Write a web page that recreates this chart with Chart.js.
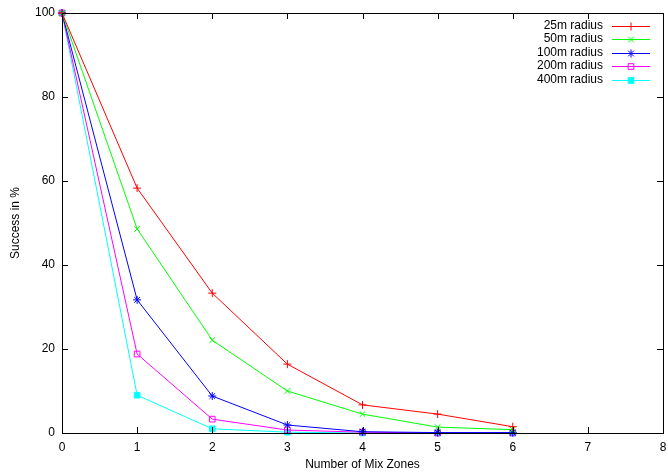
<!DOCTYPE html>
<html>
<head>
<meta charset="utf-8">
<script src="https://cdn.jsdelivr.net/npm/chart.js@4.4.1/dist/chart.umd.min.js"></script>
<style>
  html, body { margin: 0; padding: 0; background: #fff; }
  #wrap { width: 668px; height: 476px; }
</style>
</head>
<body>
<div id="wrap"><canvas id="line-chart"></canvas></div>
<script>
const zones = [0, 1, 2, 3, 4, 5, 6];
const r25 = [100, 58.3, 33.3, 16.4, 6.7, 4.5, 1.5];
const r50 = [100, 48.6, 22.1, 10.0, 4.5, 1.4, 0.8];
const r100 = [100, 31.7, 8.8, 1.9, 0.3, 0.1, 0.1];
const r200 = [100, 18.8, 3.3, 0.7, 0.2, 0.0, 0.0];
const r400 = [100, 9.0, 1.0, 0.2, 0.0, 0.0, 0.0];
const names = ["25m radius", "50m radius", "100m radius", "200m radius", "400m radius"];
const colors = ["#ff0000", "#00ff00", "#0000ff", "#ff00ff", "#00ffff"];

const FONT = "'Liberation Sans', Arial, sans-serif";

function pts(vals) {
  return vals.map((v, i) => ({ x: zones[i], y: v }));
}

function series(label, vals, color, style, fill) {
  return {
    label: label,
    data: pts(vals),
    borderColor: color,
    backgroundColor: fill ? color : "rgba(0,0,0,0)",
    borderWidth: 1,
    pointStyle: style,
    pointRadius: 4,
    pointBorderWidth: 1,
    pointBorderColor: color,
    pointBackgroundColor: fill ? color : "rgba(0,0,0,0)",
    tension: 0,
    clip: false,
  };
}

// gnuplot-like frame: border box with inward ticks on all sides
const frame = {
  id: "frame",
  afterDraw(chart) {
    const { ctx, chartArea: a, scales } = chart;
    ctx.save();
    ctx.strokeStyle = "#000";
    ctx.lineWidth = 1;
    ctx.strokeRect(a.left + 0.5, a.top + 0.5, a.right - a.left, a.bottom - a.top);
    ctx.beginPath();
    scales.x.ticks.forEach((t) => {
      const px = Math.round(scales.x.getPixelForValue(t.value)) + 0.5;
      ctx.moveTo(px, a.bottom);
      ctx.lineTo(px, a.bottom - 6);
      ctx.moveTo(px, a.top);
      ctx.lineTo(px, a.top + 6);
    });
    scales.y.ticks.forEach((t) => {
      const py = Math.round(scales.y.getPixelForValue(t.value)) + 0.5;
      ctx.moveTo(a.left, py);
      ctx.lineTo(a.left + 6, py);
      ctx.moveTo(a.right, py);
      ctx.lineTo(a.right - 6, py);
    });
    ctx.stroke();
    ctx.restore();
  },
};

// legend: right-aligned text, sample line with marker
const keyBox = {
  id: "keyBox",
  afterDraw(chart) {
    const ctx = chart.ctx;
    chart.data.datasets.forEach((ds, i) => {
      const y = Math.round(26 + i * 13.4);
      ctx.save();
      ctx.font = "12px " + FONT;
      ctx.textAlign = "right";
      ctx.textBaseline = "middle";
      ctx.fillStyle = "#000";
      ctx.fillText(ds.label, 603, y);
      ctx.fillStyle = colors[i];
      ctx.fillRect(612, y, 38, 1);
      ctx.restore();
      ctx.save();
      ctx.strokeStyle = colors[i];
      ctx.fillStyle = ds.pointBackgroundColor;
      ctx.lineWidth = 1;
      Chart.helpers.drawPoint(ctx, {
        pointStyle: ds.pointStyle,
        radius: ds.pointRadius,
        borderWidth: 1,
        rotation: 0,
      }, 631, y + 0.5);
      ctx.restore();
    });
  },
};

new Chart(document.getElementById("line-chart"), {
  type: "line",
  data: {
    datasets: [
      series(names[0], r25, colors[0], "cross", false),
      series(names[1], r50, colors[1], "crossRot", false),
      series(names[2], r100, colors[2], "star", false),
      series(names[3], r200, colors[3], "rect", false),
      series(names[4], r400, colors[4], "rect", true),
    ],
  },
  options: {
    responsive: true,
    maintainAspectRatio: false,
    animation: false,
    layout: { padding: { top: 13, right: 3, left: 0, bottom: 0 } },
    plugins: {
      legend: { display: false },
      tooltip: { enabled: false },
    },
    scales: {
      x: {
        type: "linear",
        min: 0,
        max: 8,
        grid: { display: false, drawTicks: false },
        border: { display: false },
        ticks: {
          stepSize: 1,
          padding: 7,
          color: "#000",
          font: { family: FONT, size: 12 },
          maxRotation: 0,
        },
        title: {
          display: true,
          text: "Number of Mix Zones",
          color: "#000",
          font: { family: FONT, size: 12 },
          padding: { top: 4, bottom: 4 },
        },
        afterFit(scale) {
          scale.height = 43;
          scale.paddingLeft = 0;
          scale.paddingRight = 0;
        },
      },
      y: {
        min: 0,
        max: 100,
        grid: { display: false, drawTicks: false },
        border: { display: false },
        ticks: {
          stepSize: 20,
          padding: 7,
          color: "#000",
          font: { family: FONT, size: 12 },
        },
        title: {
          display: true,
          text: "Success in %",
          color: "#000",
          font: { family: FONT, size: 12 },
          padding: { top: 8, bottom: 4 },
        },
        afterFit(scale) {
          scale.width = 62;
          scale.paddingTop = 0;
          scale.paddingBottom = 0;
        },
      },
    },
  },
  plugins: [frame, keyBox],
});
</script>
</body>
</html>
